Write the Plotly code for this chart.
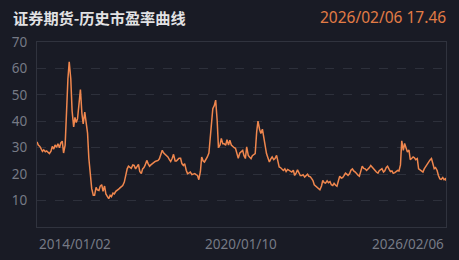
import plotly.graph_objects as go

# Semi-monthly P/E readings (2nd and 16th of each month)
pe_2014 = [32.2, 31.0, 30.5, 29.5, 28.6, 29.2, 28.5, 28.8, 28.2, 27.8, 28.7, 30.5,
           29.5, 31.0, 30.2, 31.5, 30.0, 31.8, 32.5, 28.0, 31.0, 45.0, 56.0, 62.5]
pe_2015 = [56.0, 44.0, 37.9, 41.5, 39.5, 41.0, 48.0, 52.0, 43.0, 39.0, 43.5, 39.0,
           35.5, 26.0, 18.5, 14.5, 12.0, 12.0, 15.0, 14.0, 13.8, 15.5, 16.0, 13.5]
pe_2016 = [15.5, 12.5, 11.5, 10.7, 12.0, 11.5, 12.8, 12.5, 13.5, 13.8, 14.3, 14.8,
           15.3, 15.7, 17.0, 20.0, 22.0, 23.0, 22.5, 22.2, 23.5, 23.3, 22.0, 23.0]
pe_2017 = [23.7, 21.0, 20.2, 22.0, 22.5, 23.5, 25.2, 24.0, 23.0, 23.5, 24.0, 24.5,
           24.8, 25.0, 25.2, 25.8, 27.5, 29.0, 28.0, 27.5, 27.0, 26.5, 25.5, 24.8]
pe_2018 = [26.0, 27.5, 25.0, 25.0, 25.5, 26.0, 26.0, 24.0, 23.3, 24.0, 21.5, 20.2,
           20.5, 20.8, 19.8, 20.0, 20.2, 19.8, 19.5, 17.9, 21.0, 26.5, 25.0, 24.6]
pe_2019 = [25.5, 26.5, 28.0, 34.0, 40.0, 44.8, 46.0, 48.0, 40.4, 30.0, 31.0, 33.5,
           31.5, 31.5, 30.9, 33.0, 31.0, 32.8, 31.0, 30.5, 30.0, 29.8, 27.5, 26.0]
pe_2020 = [28.0, 28.4, 29.0, 27.0, 25.9, 30.3, 27.1, 26.5, 25.9, 27.0, 27.5, 27.8,
           36.0, 40.1, 37.0, 35.4, 37.0, 33.5, 29.7, 27.8, 26.0, 24.6, 25.8, 26.5]
pe_2021 = [25.5, 25.9, 27.1, 25.0, 22.7, 22.5, 22.0, 21.4, 22.0, 21.0, 21.8, 21.5,
           21.0, 20.8, 21.5, 19.5, 20.5, 21.6, 20.5, 19.5, 19.5, 19.8, 18.9, 19.5]
pe_2022 = [20.0, 19.2, 19.0, 18.3, 17.6, 16.0, 15.4, 15.0, 14.5, 14.1, 15.5, 17.6,
           16.8, 16.6, 17.5, 16.8, 17.2, 16.0, 15.7, 16.5, 15.8, 15.4, 17.5, 19.2]
pe_2023 = [18.5, 18.7, 19.5, 20.4, 20.0, 19.5, 20.2, 21.5, 22.0, 21.2, 20.8, 20.0,
           19.6, 19.2, 21.0, 23.0, 22.2, 22.0, 21.4, 21.8, 22.5, 23.3, 22.5, 21.8]
pe_2024 = [21.4, 20.8, 20.4, 21.3, 21.6, 22.1, 20.8, 21.3, 22.5, 23.0, 21.8, 21.0,
           21.2, 20.3, 20.6, 21.0, 21.4, 21.2, 23.5, 32.6, 29.0, 31.6, 29.6, 28.4]
pe_2025 = [29.1, 25.5, 26.0, 26.5, 26.2, 25.5, 25.9, 22.0, 21.6, 21.3, 20.8, 22.0,
           23.0, 23.8, 24.6, 25.3, 25.9, 23.5, 22.1, 22.5, 21.4, 19.5, 18.2, 18.0]
pe_2026 = [18.7, 17.9, 18.3]
last_date = "2026-02-06"
last_value = 17.46

years = list(range(2014, 2027))
yearly = [pe_2014, pe_2015, pe_2016, pe_2017, pe_2018, pe_2019, pe_2020,
          pe_2021, pe_2022, pe_2023, pe_2024, pe_2025, pe_2026]

x_tick_dates = ["2014-01-02", "2020-01-10", "2026-02-06"]
x_tick_text = ["2014/01/02", "2020/01/10", "2026/02/06"]
y_tick_vals = [10, 20, 30, 40, 50, 60, 70]

title_text = "证券期货-历史市盈率曲线"
latest_text = "2026/02/06 17.46"

dates, values = [], []
for y, vals in zip(years, yearly):
    for i, v in enumerate(vals):
        m = i // 2 + 1
        d = "02" if i % 2 == 0 else "16"
        dates.append(f"{y}-{m:02d}-{d}")
        values.append(v)
dates.append(last_date)
values.append(last_value)

BG = "#191b25"
GRID = "#2d303b"
FRAME = "#30333e"
TICK = "#767a85"
LINE = "#f0874e"

fig = go.Figure()
fig.add_trace(go.Scatter(x=dates, y=values, mode="lines",
                         line=dict(color=LINE, width=1.5),
                         hoverinfo="skip", showlegend=False))

annotations = []
anchors = ["left", "center", "right"]
for xd, txt, anc in zip(x_tick_dates, x_tick_text, anchors):
    annotations.append(dict(x=xd, y=0, xref="x", yref="paper", text=txt,
                            showarrow=False, xanchor=anc, yanchor="top", yshift=-6,
                            font=dict(family="Noto Sans, sans-serif", size=13.5, color=TICK)))
annotations.append(dict(x=0.0, y=1.0, xref="paper", yref="paper",
                        text="<b>" + title_text + "</b>",
                        showarrow=False, xanchor="left", yanchor="bottom",
                        xshift=-26, yshift=12,
                        font=dict(family="Noto Sans CJK SC, sans-serif", size=15.2,
                                  color="#e2e2e4")))
annotations.append(dict(x=1.0, y=1.0, xref="paper", yref="paper", text=latest_text,
                        showarrow=False, xanchor="right", yanchor="bottom", yshift=12,
                        xshift=2,
                        font=dict(family="Noto Sans, sans-serif", size=15.5, color="#e27c46")))

fig.update_layout(
    width=459, height=260,
    paper_bgcolor=BG, plot_bgcolor=BG,
    margin=dict(l=36, r=12, t=42, b=33),
    font=dict(family="Noto Sans CJK SC, Noto Sans, sans-serif", color=TICK, size=13),
    xaxis=dict(type="date", range=[x_tick_dates[0], x_tick_dates[-1]],
               showgrid=False, showticklabels=False, zeroline=False,
               showline=True, linecolor=FRAME, linewidth=1, mirror=True),
    yaxis=dict(range=[0, 70], tickvals=y_tick_vals,
               showgrid=True, gridcolor=GRID, griddash="dash", gridwidth=1,
               zeroline=False, showline=True, linecolor=FRAME, linewidth=1, mirror=True,
               ticks="", ticklabelstandoff=6,
               tickfont=dict(family="Noto Sans, sans-serif", size=13.5, color=TICK)),
    annotations=annotations,
)

fig.write_html("out.html")
